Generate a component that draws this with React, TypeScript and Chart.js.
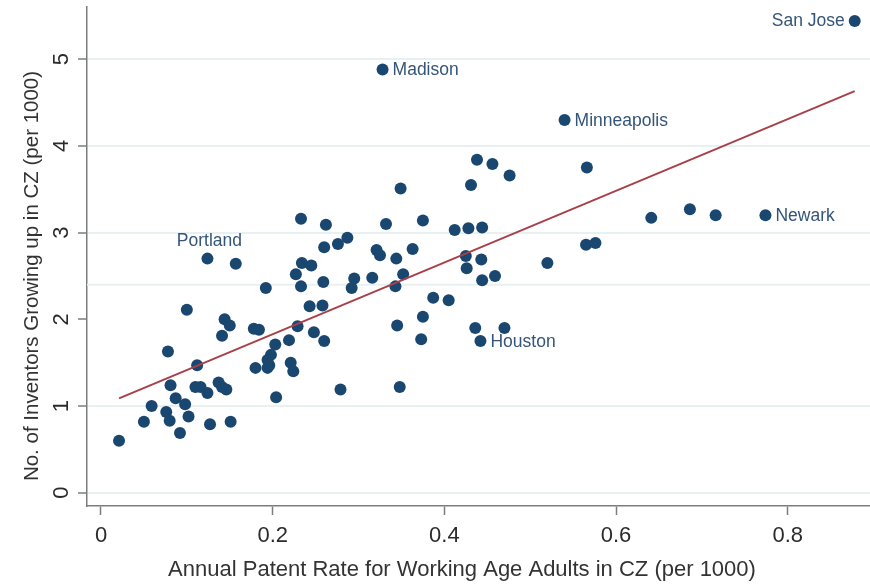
import React, { useEffect, useRef } from 'react';
import { Chart, registerables } from 'chart.js';

Chart.register(...registerables);

// ---- data ----
const patentRate = [
  0.233, 0.262, 0.287, 0.276, 0.260, 0.321, 0.325, 0.157, 0.234, 0.245,
  0.227, 0.295, 0.316, 0.259, 0.292, 0.192, 0.233, 0.100, 0.243, 0.258,
  0.144, 0.150, 0.178, 0.184, 0.229, 0.248, 0.141, 0.219, 0.260, 0.203,
  0.078, 0.112, 0.198, 0.194, 0.196, 0.180, 0.194, 0.221, 0.224, 0.081,
  0.110, 0.116, 0.124, 0.137, 0.141, 0.146, 0.087, 0.098, 0.059, 0.076,
  0.080, 0.102, 0.050, 0.127, 0.151, 0.092, 0.021, 0.204, 0.279, 0.348,
  0.438, 0.456, 0.476, 0.431, 0.349, 0.332, 0.375, 0.412, 0.428, 0.444,
  0.363, 0.344, 0.425, 0.443, 0.520, 0.426, 0.352, 0.343, 0.444, 0.459,
  0.387, 0.405, 0.375, 0.345, 0.436, 0.470, 0.373, 0.566, 0.641, 0.686,
  0.716, 0.565, 0.576,
];
const inventorRate = [
  3.16, 3.09, 2.94, 2.87, 2.83, 2.80, 2.74, 2.64, 2.65, 2.62,
  2.52, 2.47, 2.48, 2.43, 2.36, 2.36, 2.38, 2.11, 2.15, 2.16,
  2.00, 1.93, 1.89, 1.88, 1.92, 1.85, 1.81, 1.76, 1.75, 1.71,
  1.63, 1.47, 1.59, 1.53, 1.47, 1.44, 1.44, 1.50, 1.40, 1.24,
  1.22, 1.22, 1.15, 1.27, 1.22, 1.19, 1.09, 1.02, 1.00, 0.93,
  0.83, 0.88, 0.82, 0.79, 0.82, 0.69, 0.60, 1.10, 1.19, 1.22,
  3.84, 3.79, 3.66, 3.55, 3.51, 3.10, 3.14, 3.03, 3.05, 3.06,
  2.81, 2.70, 2.73, 2.69, 2.65, 2.59, 2.52, 2.38, 2.45, 2.50,
  2.25, 2.22, 2.03, 1.93, 1.90, 1.90, 1.77, 3.75, 3.17, 3.27,
  3.20, 2.86, 2.88,
];

const cityNames = ['San Jose', 'Madison', 'Minneapolis', 'Newark', 'Houston', 'Portland'];
const cityPatentRate = [0.878, 0.328, 0.540, 0.774, 0.442, 0.124];
const cityInventorRate = [5.44, 4.88, 4.30, 3.20, 1.75, 2.70];

const fitX = [0.021, 0.878];
const fitY = [1.089, 4.632];

const xTicks = [0, 0.2, 0.4, 0.6, 0.8];
const yTicks = [0, 1, 2, 3, 4, 5];
const shadedGridY = [2.4];

const xTitle = 'Annual Patent Rate for Working Age Adults in CZ (per 1000)';
const yTitle = 'No. of Inventors Growing up in CZ (per 1000)';

const X_MIN = -0.0163;
const X_MAX = 0.8958;
const Y_MIN = -0.153;
const Y_MAX = 5.602;

const FONT = "'Liberation Sans', Arial, Helvetica, sans-serif";
const NAVY = '#1a476f';
const LABEL = '#34557a';
const AXIS = '#7c7c7c';
const GRID = '#e8f1f2';

// label placement per city
const placement: Record<string, string> = {
  'San Jose': 'left',
  Madison: 'right',
  Minneapolis: 'right',
  Newark: 'right',
  Houston: 'right',
  Portland: 'top',
};

const cityLabelPlugin = {
  id: 'cityLabels',
  afterDatasetsDraw(chart: any) {
    const meta = chart.getDatasetMeta(1);
    const ctx = chart.ctx;
    ctx.save();
    ctx.font = `17.5px ${FONT}`;
    ctx.fillStyle = LABEL;
    ctx.textBaseline = 'middle';
    meta.data.forEach((el: any, i: number) => {
      const name = cityNames[i];
      const pos = placement[name];
      if (pos === 'left') {
        ctx.textAlign = 'right';
        ctx.fillText(name, el.x - 10, el.y);
      } else if (pos === 'top') {
        ctx.textAlign = 'center';
        ctx.fillText(name, el.x + 2, el.y - 17);
      } else {
        ctx.textAlign = 'left';
        ctx.fillText(name, el.x + 10, el.y + 1);
      }
    });
    ctx.restore();
  },
};

const axisTitlePlugin = {
  id: 'axisTitles',
  afterDraw(chart: any) {
    const ctx = chart.ctx;
    ctx.save();
    ctx.fillStyle = '#333333';
    ctx.textAlign = 'center';
    ctx.textBaseline = 'middle';
    ctx.font = `22px ${FONT}`;
    ctx.fillText(xTitle, 462, 570);
    ctx.font = `20.5px ${FONT}`;
    ctx.translate(32, 276);
    ctx.rotate(-Math.PI / 2);
    ctx.fillText(yTitle, 0, 0);
    ctx.restore();
  },
};

const zeroPad = (scale: any) => {
  scale.paddingTop = 0;
  scale.paddingBottom = 0;
  scale.paddingLeft = 0;
  scale.paddingRight = 0;
};

export default function App() {
  const canvasRef = useRef<HTMLCanvasElement | null>(null);

  useEffect(() => {
    document.body.style.margin = '0';
    const canvas = canvasRef.current;
    if (!canvas) return;

    const points = patentRate.map((x, i) => ({ x, y: inventorRate[i] }));
    const cities = cityPatentRate.map((x, i) => ({ x, y: cityInventorRate[i] }));
    const fit = fitX.map((x, i) => ({ x, y: fitY[i] }));
    const shaded = shadedGridY.flatMap((y) => [
      { x: X_MIN, y },
      { x: X_MAX, y },
    ]);

    const chart = new Chart(canvas, {
      type: 'scatter',
      data: {
        datasets: [
          {
            label: 'CZ',
            data: points,
            backgroundColor: NAVY,
            borderWidth: 0,
            pointRadius: 6,
            order: 1,
          } as any,
          {
            label: 'Named CZ',
            data: cities,
            backgroundColor: NAVY,
            borderWidth: 0,
            pointRadius: 6,
            order: 1,
          } as any,
          {
            type: 'line',
            label: 'Fit',
            data: fit,
            borderColor: '#a8404a',
            borderWidth: 2,
            pointRadius: 0,
            fill: false,
            order: 0,
          } as any,
          {
            type: 'line',
            label: 'grid',
            data: shaded,
            borderColor: GRID,
            borderWidth: 2,
            pointRadius: 0,
            fill: false,
            order: 5,
          } as any,
        ],
      },
      options: {
        responsive: false,
        animation: false,
        devicePixelRatio: 1,
        layout: { autoPadding: false, padding: { top: 7, right: 0, left: 0, bottom: 0 } },
        plugins: {
          legend: { display: false },
          tooltip: { enabled: false },
          title: { display: false },
        },
        scales: {
          x: {
            type: 'linear',
            min: X_MIN,
            max: X_MAX,
            afterBuildTicks: (scale: any) => {
              scale.ticks = xTicks.map((v) => ({ value: v }));
            },
            afterFit: (scale: any) => {
              scale.height = 78;
              zeroPad(scale);
            },
            border: { display: true, color: AXIS, width: 1.5 },
            grid: {
              drawOnChartArea: false,
              drawTicks: true,
              tickLength: 9,
              tickColor: AXIS,
              tickWidth: 1.5,
            },
            ticks: {
              font: { family: FONT, size: 22 },
              color: '#2b2b2b',
              padding: 8,
              maxRotation: 0,
              minRotation: 0,
              callback: (v: any) => String(v),
            },
          },
          y: {
            type: 'linear',
            min: Y_MIN,
            max: Y_MAX,
            afterBuildTicks: (scale: any) => {
              scale.ticks = yTicks.map((v) => ({ value: v }));
            },
            afterFit: (scale: any) => {
              scale.width = 87;
              zeroPad(scale);
            },
            border: { display: true, color: AXIS, width: 1.5 },
            grid: {
              color: (c: any) => (c.tick && c.tick.value === 2 ? 'rgba(0,0,0,0)' : GRID),
              lineWidth: 2,
              drawTicks: true,
              tickLength: 9,
              tickColor: AXIS,
              tickWidth: 1.5,
            },
            ticks: {
              font: { family: FONT, size: 22 },
              color: '#2b2b2b',
              padding: 10,
              minRotation: 90,
              maxRotation: 90,
              crossAlign: 'center',
              callback: (v: any) => String(v),
            },
          },
        },
      },
      plugins: [cityLabelPlugin, axisTitlePlugin],
    } as any);

    return () => chart.destroy();
  }, []);

  return (
    <div style={{ width: 870, height: 584 }}>
      <canvas ref={canvasRef} width={870} height={584} style={{ display: 'block' }} />
    </div>
  );
}
